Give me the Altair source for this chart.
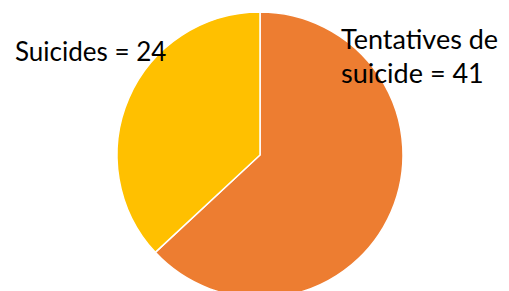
import altair as alt
import pandas as pd

categories = ["Tentatives de suicide", "Suicides"]
values = [41, 24]
colors = ["#ED7D31", "#FFC000"]
order = [0, 1]

df = pd.DataFrame({"cat": categories, "val": values, "ord": order})

FONT = "Lato"
FS = 26

pie = alt.Chart(df).mark_arc(stroke="white", strokeWidth=1.5).encode(
    theta=alt.Theta("val:Q", stack=True),
    order=alt.Order("ord:Q"),
    color=alt.Color("cat:N", scale=alt.Scale(domain=categories, range=colors), legend=None),
    x=alt.value(252),
    y=alt.value(147),
    radius=alt.value(143),
)

lbl_left = alt.Chart(pd.DataFrame({"t": [f"Suicides = {values[1]}"]})).mark_text(
    align="left", baseline="alphabetic", font=FONT, fontSize=FS, color="black"
).encode(text="t:N", x=alt.value(7), y=alt.value(53))

lbl_r1 = alt.Chart(pd.DataFrame({"t": ["Tentatives de"]})).mark_text(
    align="left", baseline="alphabetic", font=FONT, fontSize=27, color="black"
).encode(text="t:N", x=alt.value(333), y=alt.value(41))

lbl_r2 = alt.Chart(pd.DataFrame({"t": [f"suicide = {values[0]}"]})).mark_text(
    align="left", baseline="alphabetic", font=FONT, fontSize=27, color="black"
).encode(text="t:N", x=alt.value(333), y=alt.value(75))

chart = alt.layer(pie, lbl_left, lbl_r1, lbl_r2).properties(
    width=493, height=300, autosize=alt.AutoSizeParams(type="none"), padding=0
).configure_view(stroke=None)

chart.save("out.html", embed_options={"renderer": "svg", "actions": False})
